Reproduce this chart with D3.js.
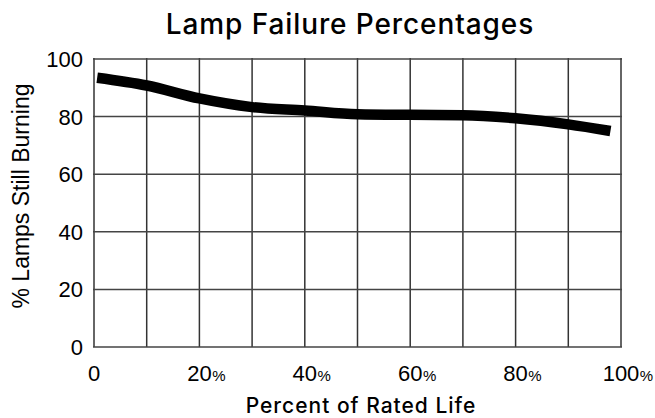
<!DOCTYPE html>
<html>
<head>
<meta charset="utf-8">
<script src="https://cdn.jsdelivr.net/npm/d3@7"></script>
<style>
  html, body { margin: 0; padding: 0; background: #fff; }
  svg { display: block; }
</style>
</head>
<body>
<svg id="chart" width="655" height="418"></svg>
<script>
// ---- data ----
const title = "Lamp Failure Percentages";
const xLabel = "Percent of Rated Life";
const yLabel = "% Lamps Still Burning";
const lifePct = [0.6, 10, 20, 30, 40, 50, 60, 70, 80, 90, 98];
const stillBurning = [93.5, 90.8, 86.3, 83.3, 82.1, 80.8, 80.6, 80.5, 79.4, 77.3, 75.0];
const xTicks = [0, 20, 40, 60, 80, 100];
const xTickSuffix = ["", "%", "%", "%", "%", "%"];
const xGrid = [0, 10, 20, 30, 40, 50, 60, 70, 80, 90, 100];
const yTicks = [0, 20, 40, 60, 80, 100];

// ---- layout ----
const W = 655, H = 418;
const m = { left: 94, top: 59, right: 34, bottom: 71 };
const svg = d3.select("#chart");

const x = d3.scaleLinear().domain([0, 100]).range([m.left, W - m.right]);
const y = d3.scaleLinear().domain([0, 100]).range([H - m.bottom, m.top]);

const tickFont = "'Liberation Sans', Arial, sans-serif";
const titleFont = "Inter, 'Open Sans', sans-serif";

// grid
svg.append("g").selectAll("line").data(xGrid).join("line")
  .attr("x1", d => x(d)).attr("x2", d => x(d))
  .attr("y1", y(100) - 1).attr("y2", y(0))
  .attr("stroke", "#333").attr("stroke-width", 1.5);
svg.append("g").selectAll("line").data(yTicks).join("line")
  .attr("x1", x(0) - 1).attr("x2", x(100) + 1)
  .attr("y1", d => y(d)).attr("y2", d => y(d))
  .attr("stroke", "#444").attr("stroke-width", 1.5);

// y tick labels
svg.append("g").selectAll("text").data(yTicks).join("text")
  .attr("x", x(0) - 11).attr("y", d => y(d)).attr("dy", "0.36em")
  .attr("text-anchor", "end")
  .attr("font-family", tickFont).attr("font-size", 22).attr("fill", "#000")
  .text(d => d);

// x tick labels
const xt = svg.append("g").selectAll("g").data(xTicks).join("g");
xt.append("text")
  .attr("x", d => x(d)).attr("y", 381)
  .attr("text-anchor", "middle")
  .attr("font-family", tickFont).attr("font-size", 22).attr("fill", "#000")
  .text(d => d);
xt.append("text")
  .attr("x", function(d) { return x(d) + this.previousSibling.getComputedTextLength() / 2 + 0.5; })
  .attr("y", 381)
  .attr("font-family", tickFont).attr("font-size", 15).attr("fill", "#000")
  .text((d, i) => xTickSuffix[i]);

// line
const line = d3.line()
  .x((d, i) => x(lifePct[i]))
  .y(d => y(d))
  .curve(d3.curveMonotoneX);
svg.append("path").datum(stillBurning)
  .attr("d", line)
  .attr("fill", "none").attr("stroke", "#000").attr("stroke-width", 10.5)
  .attr("stroke-linecap", "butt").attr("stroke-linejoin", "round");

// title
svg.append("text").attr("x", 350).attr("y", 34)
  .attr("text-anchor", "middle")
  .attr("font-family", titleFont).attr("font-size", 28).attr("font-weight", 500)
  .attr("letter-spacing", 0.9).attr("fill", "#000")
  .text(title);

// x label
svg.append("text").attr("x", 361).attr("y", 413)
  .attr("text-anchor", "middle")
  .attr("font-family", titleFont).attr("font-size", 21).attr("font-weight", 500)
  .attr("letter-spacing", 1).attr("fill", "#000")
  .text(xLabel);

// y label
svg.append("text")
  .attr("transform", "translate(29, 196) rotate(-90)")
  .attr("text-anchor", "middle")
  .attr("font-family", tickFont).attr("font-size", 23).attr("fill", "#000")
  .text(yLabel);
</script>
</body>
</html>
